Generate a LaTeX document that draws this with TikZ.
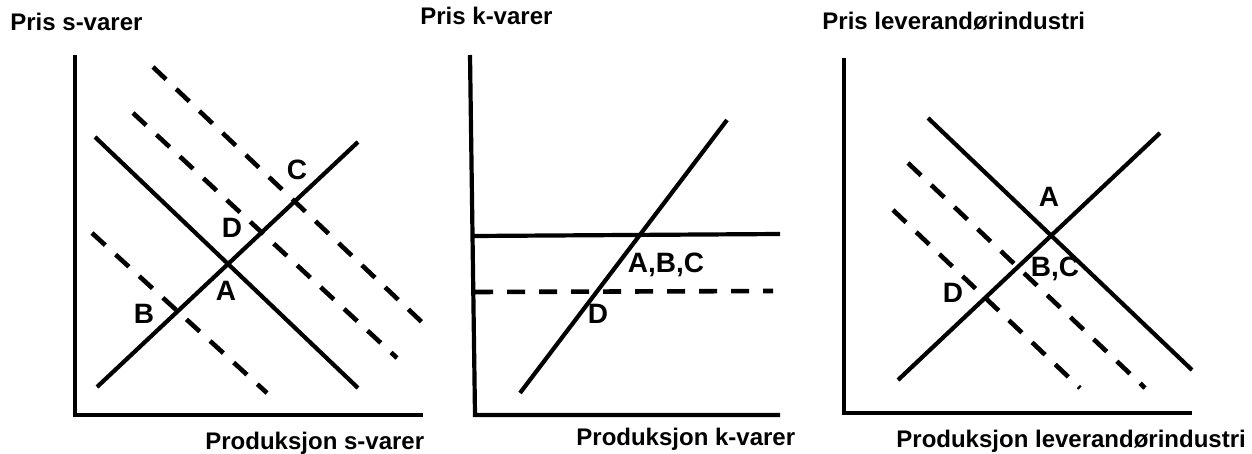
\documentclass[tikz,border=0pt]{standalone}
\usepackage{fontspec}
\setmainfont{Liberation Sans}
\tikzset{
  font=\fontsize{12pt}{14pt}\selectfont\bfseries,
  axis/.style   ={draw, line width=2.1pt},
  curve/.style  ={draw, line width=2.1pt},
  shifted/.style={draw, line width=2.3pt, dash pattern=on 9pt off 7pt},
  lbl/.style    ={inner sep=0pt, anchor=base, font=\fontsize{14pt}{16pt}\selectfont\bfseries},
  ttl/.style    ={inner sep=0pt, anchor=base west},
}

\begin{document}
\begin{tikzpicture}[x=0.5pt,y=-0.5pt]
  \useasboundingbox (0,0) rectangle (1252,454);

  % panel 1: s-varer
  \coordinate (s-top) at (75,55);   \coordinate (s-o) at (75,415);   \coordinate (s-end) at (423,415);
  \draw[axis] (s-top) -- (s-o) -- (s-end);
  \coordinate (s-d0) at (95,137);   \coordinate (s-d1) at (358,388);
  \coordinate (s-s0) at (97,387);   \coordinate (s-s1) at (358,142);
  \coordinate (s-c0) at (153,67);   \coordinate (s-c1) at (427,327);
  \coordinate (s-e0) at (133,113);  \coordinate (s-e1) at (397,358);
  \coordinate (s-b0) at (92,233);   \coordinate (s-b1) at (267,393);
  \draw[curve] (s-d0) -- (s-d1);
  \draw[curve] (s-s0) -- (s-s1);
  \draw[shifted] (s-c0) -- (s-c1);
  \draw[shifted] (s-e0) -- (s-e1);
  \draw[shifted] (s-b0) -- (s-b1);
  \node[lbl] (s-C) at (297,180) {C};
  \node[lbl] (s-D) at (232,238) {D};
  \node[lbl] (s-A) at (226,300) {A};
  \node[lbl] (s-B) at (144,323) {B};
  \node[ttl] (s-py) at (10,31)  {Pris s-varer};
  \node[ttl] (s-px) at (205,449) {Produksjon s-varer};

  % panel 2: k-varer
  \coordinate (k-top) at (470,55);  \coordinate (k-o) at (475,415);  \coordinate (k-end) at (780,415);
  \draw[axis] (k-top) -- (k-o) -- (k-end);
  \coordinate (k-h0) at (474,236);  \coordinate (k-h1) at (780,234);
  \coordinate (k-l0) at (475,292);  \coordinate (k-l1) at (773,291);
  \coordinate (k-s0) at (520,393);  \coordinate (k-s1) at (727,120);
  \draw[curve] (k-h0) -- (k-h1);
  \draw[shifted] (k-l0) -- (k-l1);
  \draw[curve] (k-s0) -- (k-s1);
  \node[lbl] (k-ABC) at (666,272) {A,B,C};
  \node[lbl] (k-D) at (598,323) {D};
  \node[ttl] (k-py) at (420,25)  {Pris k-varer};
  \node[ttl] (k-px) at (576,445) {Produksjon k-varer};

  % panel 3: leverandørindustri
  \coordinate (l-top) at (844,58);  \coordinate (l-o) at (844,413);  \coordinate (l-end) at (1192,413);
  \draw[axis] (l-top) -- (l-o) -- (l-end);
  \coordinate (l-d0) at (928,118);  \coordinate (l-d1) at (1192,370);
  \coordinate (l-s0) at (898,380);  \coordinate (l-s1) at (1160,133);
  \coordinate (l-e0) at (908,163);  \coordinate (l-e1) at (1145,388);
  \coordinate (l-f0) at (893,210);  \coordinate (l-f1) at (1080,388);
  \draw[curve] (l-d0) -- (l-d1);
  \draw[curve] (l-s0) -- (l-s1);
  \draw[shifted] (l-e0) -- (l-e1);
  \draw[shifted] (l-f0) -- (l-f1);
  \node[lbl] (l-A) at (1049,207) {A};
  \node[lbl] (l-BC) at (1055,277) {B,C};
  \node[lbl] (l-D) at (953,302) {D};
  \node[ttl] (l-py) at (822,30)  {Pris leverandørindustri};
  \node[ttl] (l-px) at (896,447) {Produksjon leverandørindustri};
\end{tikzpicture}
\end{document}
